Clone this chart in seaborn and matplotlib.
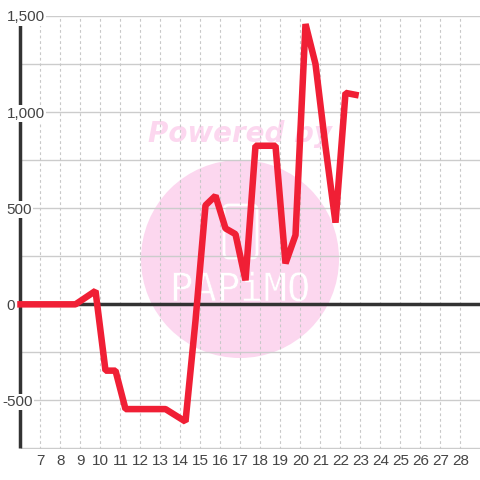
import matplotlib
matplotlib.use('Agg')
import matplotlib.pyplot as plt
import matplotlib.patheffects as pe
from matplotlib.patches import Circle, FancyBboxPatch
import pandas as pd
import seaborn as sns

# half hour samples, placed at .25 and .75 of the hour
hours = [6.0, 6.75, 7.25, 7.75, 8.25, 8.75, 9.75, 10.25, 10.75, 11.25, 11.75, 12.25, 12.75, 13.25,
         14.25, 14.75, 15.25, 15.75, 16.25, 16.75, 17.25, 17.75, 18.25, 18.75, 19.25, 19.75,
         20.25, 20.75, 21.25, 21.75, 22.25, 22.75]
values = [0, 0, 0, 0, 0, 0, 70, -345, -345, -545, -545, -545, -545, -545,
          -610, -85, 515, 565, 395, 365, 125, 825, 825, 825, 213, 360,
          1458, 1250, 820, 425, 1100, 1090]
x_ticks = list(range(7, 29))
y_ticks = [-500, 0, 500, 1000, 1500]
y_labels = ['-500', '0', '500', '1,000', '1,500']
y_grid = [-750, -500, -250, 0, 250, 500, 750, 1000, 1250, 1500]

GREY = '#333333'
RED = '#f01f35'
PINK = '#fcd7ef'

df = pd.DataFrame({'hour': hours, 'value': values})

sns.set_theme(style='white')
plt.rcParams['font.family'] = ['Liberation Sans', 'DejaVu Sans']

fig = plt.figure(figsize=(4.8, 4.8), dpi=100)
ax = fig.add_axes([20.5 / 480, 1 - 448.5 / 480, 459.5 / 480, 432.5 / 480], zorder=1)
ax.set_xlim(6, 28.975)
ax.set_ylim(-750, 1500)
ax.patch.set_alpha(0)
ax.set_axisbelow(False)

for s in ax.spines.values():
    s.set_visible(False)

# grid
for y in y_grid:
    ax.axhline(y, color='#cccccc', lw=1, zorder=1)
for x in x_ticks:
    ax.axvline(x, color='#c8c8c8', lw=0.8, ls=(0, (2.5, 2.5)), zorder=1)

# thick axes
ax.axhline(0, color=GREY, lw=2.5, zorder=2)
ax.plot([6, 6], [-750, 1458], color=GREY, lw=2.5, zorder=2, clip_on=False, solid_capstyle='butt')

# watermark, in pixel coordinates of the figure
px = fig.transFigure.inverted()
def fp(x, y):
    return px.transform((x, 480 - y))

fig.add_artist(Circle((240, 480 - 259), 99, transform=None, fc=PINK, ec='none', zorder=0))
fig.text(*fp(240, 134), 'Powered by', color=PINK, fontsize=20, fontweight='bold', fontstyle='italic',
         family='DejaVu Sans', ha='center', va='center', zorder=0)
logo = fig.text(*fp(240, 290), 'PAPiMO', color='white', fontsize=28, family='DejaVu Sans Mono',
                ha='center', va='center', zorder=0.5)
logo.set_path_effects([pe.Stroke(linewidth=0.4, foreground=PINK)])
fig.add_artist(FancyBboxPatch((228, 480 - 254), 25, 45, boxstyle='round,pad=4,rounding_size=5',
                              transform=None, fc='none', ec='white', lw=2, zorder=0.5))

sns.lineplot(data=df, x='hour', y='value', color=RED, lw=4.7, ax=ax, zorder=4, clip_on=False,
             solid_joinstyle='bevel', solid_capstyle='projecting', errorbar=None)

ax.set_xlabel('')
ax.set_ylabel('')
ax.set_xticks(x_ticks)
ax.set_yticks(y_ticks)
ax.set_xticklabels([str(x) for x in x_ticks])
ax.set_yticklabels(y_labels)
ax.tick_params(axis='x', length=0, pad=4, labelsize=11, labelcolor='#444444')
ax.tick_params(axis='y', length=0, pad=10, labelsize=11, labelcolor='#444444')
for lab in ax.get_yticklabels():
    lab.set_horizontalalignment('left')
    lab.set_bbox(dict(fc='white', ec='none', pad=1))
ax.yaxis.get_major_ticks()[0].set_pad(13)

fig.savefig('out.png', dpi=100)
